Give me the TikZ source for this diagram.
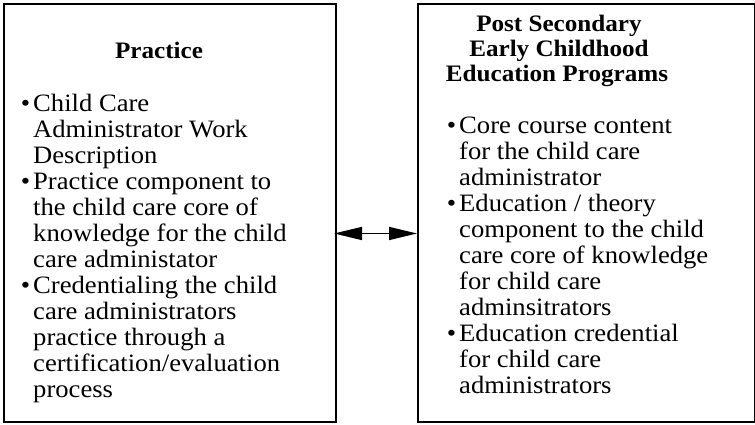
\documentclass[tikz,border=0pt]{standalone}
\usepackage{fontspec}
\setmainfont{Liberation Serif}[FakeStretch=1.065]
\usetikzlibrary{arrows.meta}
\newcommand{\bt}{\llap{\textbullet\hspace{3pt}}}
\begin{document}
\begin{tikzpicture}[x=1pt,y=1pt,
  box/.style={draw=black,line width=2pt,inner sep=0pt,anchor=south west},
  body/.style={anchor=base west,inner sep=0pt,font=\fontsize{25}{26}\selectfont},
  ttl/.style={inner sep=0pt,anchor=base,align=center,font=\fontsize{23.6}{25}\selectfont\bfseries},
  link/.style={line width=1.6pt,{Triangle[length=28pt,width=13pt]}-{Triangle[length=28pt,width=13pt]}}]
\useasboundingbox (0,0) rectangle (755,425);
\node[box,minimum width=332pt,minimum height=418pt] (left) at (3,2) {};
\node[box,minimum width=337pt,minimum height=418pt] (right) at (417,2) {};
\node[ttl] (lt) at (159,366) {Practice};
\node[ttl] (rt1) at (559,393) {Post Secondary};
\node[ttl] (rt2) at (559,368) {Early Childhood};
\node[ttl] (rt3) at (557,343) {Education Programs};
\foreach \t [count=\i] in {{\bt Child Care},{Administrator Work},{Description},{\bt Practice component to},{the child care core of},{knowledge for the child},{care administator},{\bt Credentialing the child},{care administrators},{practice through a},{certification/evaluation},{process}}
  \node[body] (L\i) at (33,{313.5-26*(\i-1)}) {\t};
\foreach \t [count=\i] in {{\bt Core course content},{for the child care},{administrator},{\bt Education / theory},{component to the child},{care core of knowledge},{for child care},{adminsitrators},{\bt Education credential},{for child care},{administrators}}
  \node[body] (R\i) at (459,{291-26*(\i-1)}) {\t};
\draw[link] ([xshift=-3pt,yshift=-20.5pt]left.east) -- ([yshift=-20.5pt]right.west);
\end{tikzpicture}
\end{document}
